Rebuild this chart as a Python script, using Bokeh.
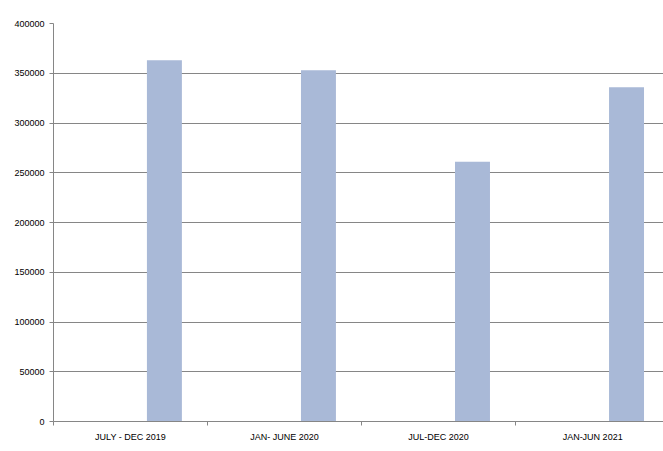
from bokeh.plotting import figure
from bokeh.models import Range1d, FixedTicker, BasicTickFormatter, ColumnDataSource
from bokeh.embed import file_html
from bokeh.resources import INLINE

categories = ["JULY - DEC 2019", "JAN- JUNE 2020", "JUL-DEC 2020", "JAN-JUN 2021"]
values = [363000, 353000, 261000, 336000]
y_ticks = [0, 50000, 100000, 150000, 200000, 250000, 300000, 350000, 400000]

centers = [i + 0.5 for i in range(len(categories))]
bar_x = [c + 0.22 for c in centers]
src = ColumnDataSource(dict(x=bar_x, top=values))

p = figure(width=663, height=451, output_backend="svg", toolbar_location=None,
           x_range=Range1d(0, 3.96), y_range=Range1d(0, 400000),
           min_border_left=53, min_border_top=23, min_border_right=0, min_border_bottom=30)
p.outline_line_color = None
p.background_fill_color = "white"
p.border_fill_color = "white"

p.vbar(x="x", top="top", width=0.227, source=src, fill_color="#A9B9D7", line_color=None)

grid_col = "#868686"
p.xgrid.grid_line_color = None
p.ygrid.grid_line_color = grid_col
p.ygrid.grid_line_width = 1
p.ygrid.ticker = FixedTicker(ticks=y_ticks)

p.yaxis.ticker = FixedTicker(ticks=y_ticks)
p.yaxis.formatter = BasicTickFormatter(use_scientific=False)
p.yaxis.axis_line_color = grid_col
p.yaxis.major_tick_line_color = grid_col
p.yaxis.major_tick_out = 4
p.yaxis.major_tick_in = 0
p.yaxis.minor_tick_line_color = None
p.yaxis.major_label_text_font = "Liberation Sans"
p.yaxis.major_label_text_font_size = "9px"
p.yaxis.major_label_text_color = "#000000"
p.yaxis.major_label_standoff = 5

p.xaxis.ticker = FixedTicker(ticks=centers, minor_ticks=[0, 1, 2, 3, 4])
p.xaxis.major_label_overrides = {c: lab for c, lab in zip(centers, categories)}
p.xaxis.axis_line_color = grid_col
p.xaxis.major_tick_line_color = None
p.xaxis.major_tick_out = 0
p.xaxis.major_tick_in = 0
p.xaxis.minor_tick_line_color = grid_col
p.xaxis.minor_tick_out = 4
p.xaxis.minor_tick_in = 0
p.xaxis.major_label_text_font = "Liberation Sans"
p.xaxis.major_label_text_font_size = "9px"
p.xaxis.major_label_text_color = "#000000"
p.xaxis.major_label_standoff = 6

open("out.html", "w").write(file_html(p, INLINE))
